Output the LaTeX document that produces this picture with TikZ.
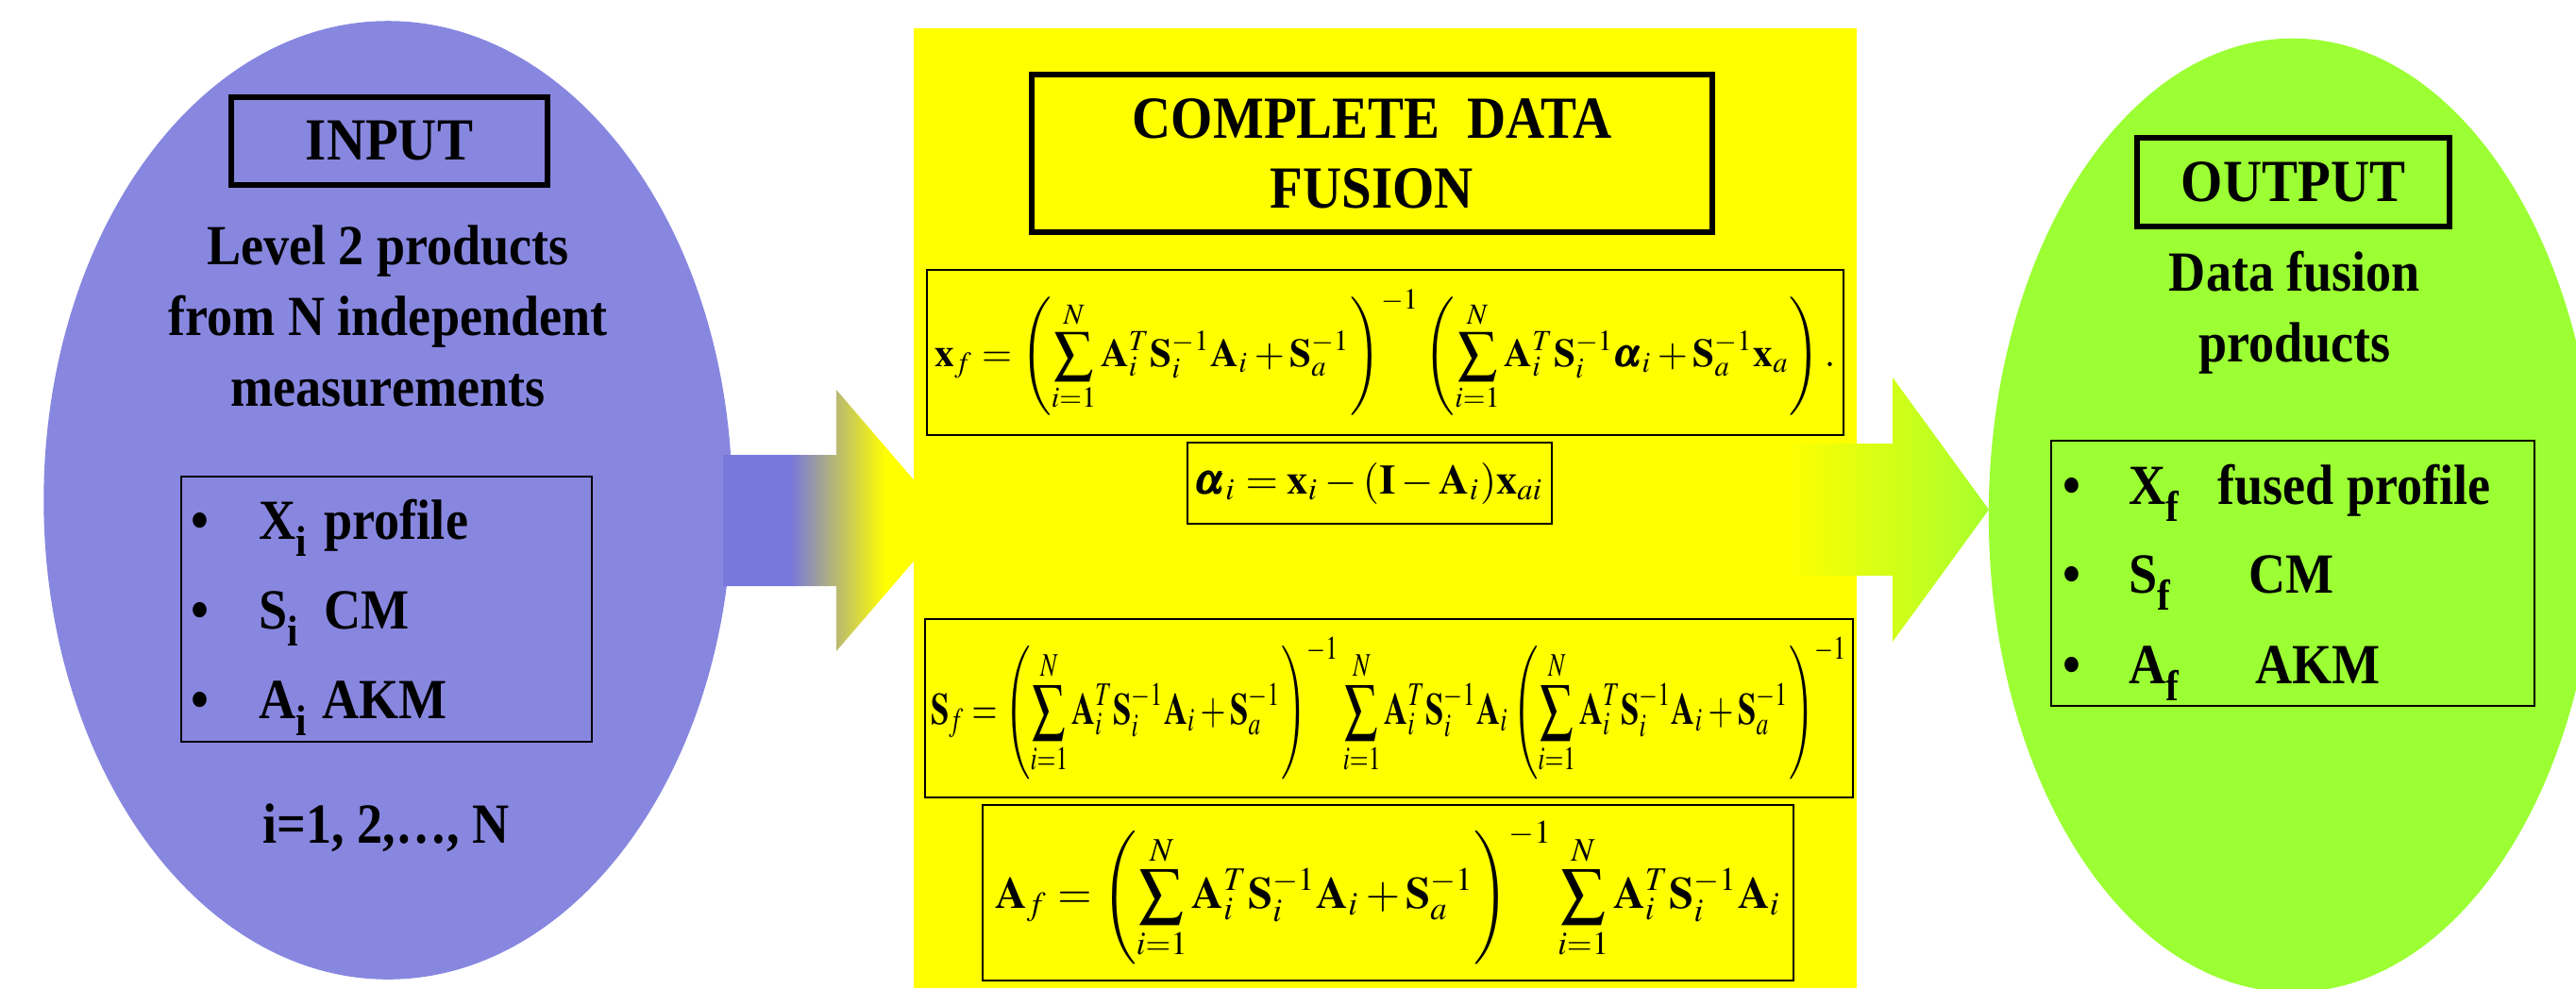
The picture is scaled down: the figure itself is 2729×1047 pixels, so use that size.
\documentclass[tikz,border=0pt]{standalone}
\usepackage{amsmath}
\usepackage{mathptmx}
\usepackage[no-math]{fontspec}
\setmainfont{Liberation Serif}[FakeStretch=0.9]
\usepackage{tikz}
\usetikzlibrary{shapes.geometric}

\definecolor{inblue}{RGB}{135,135,224}
\definecolor{arrowblue}{RGB}{120,120,220}
\definecolor{fusyellow}{RGB}{255,255,0}
\definecolor{outgreen}{RGB}{155,255,51}
\definecolor{arrowgreen}{RGB}{168,255,45}
\pgfdeclarehorizontalshading{inarrow}{100bp}{color(0bp)=(arrowblue); color(40bp)=(arrowblue); color(61bp)=(fusyellow); color(100bp)=(fusyellow)}

\newcommand{\lowsub}[1]{\raisebox{-0.3em}{\fontsize{13}{13}\selectfont #1}}
\newcommand{\bA}{\mathbf{A}}
\newcommand{\bS}{\mathbf{S}}
\newcommand{\bx}{\mathbf{x}}

\tikzset{
  headbox/.style={draw, line width=1.6pt, inner sep=0pt, align=center, font=\fontsize{18}{21}\selectfont\bfseries},
  listbox/.style={draw, line width=0.6pt, inner sep=0pt},
  eqbox/.style={draw, line width=0.6pt, inner sep=0pt},
  bodytxt/.style={inner sep=0pt, align=center, font=\fontsize{17.1}{21.3}\selectfont\bfseries},
  itemtxt/.style={inner sep=0pt, anchor=base west, font=\fontsize{17.1}{21.3}\selectfont\bfseries},
  bul/.style={inner sep=0pt, anchor=base, font=\fontsize{17.1}{21.3}\selectfont\bfseries}
}

\begin{document}
\begin{tikzpicture}[x=0.01cm, y=-0.01cm]
\useasboundingbox (0,0) rectangle (2729,1047);

% input side
\node[ellipse, fill=inblue, inner sep=0pt, minimum width=7.29cm, minimum height=10.15cm] (inp) at (411,530) {};
\shade[shading=inarrow] (766,482) -- (886,482) -- (886,413) -- (1005,551.5)
      -- (886,690) -- (886,621) -- (766,621) -- cycle;
\node[headbox, minimum width=3.35cm, minimum height=0.93cm] (intitle) at (412.5,149.5) {INPUT};
\node[bodytxt] (intext) at (411,335) {Level 2 products\\from N independent\\measurements};
\node[listbox, minimum width=4.35cm, minimum height=2.81cm] (inlist) at (409.5,645.5) {};
\node[bul] (inb1) at (212,571) {•};
\node[bul] (inb2) at (212,666) {•};
\node[bul] (inb3) at (212,761) {•};
\node[itemtxt] (inx) at (274,571) {X\lowsub{i}};
\node[itemtxt] (ins) at (274,666) {S\lowsub{i}};
\node[itemtxt] (ina) at (274,761) {A\lowsub{i}};
\node[itemtxt] (inxl) at (343,571) {profile};
\node[itemtxt] (insl) at (343,666) {CM};
\node[itemtxt] (inal) at (341,761) {AKM};
\node[bul] (inrange) at (409,893) {i=1, 2,…, N};

% fusion block
\fill[fusyellow] (968,30) rectangle (1967,1047);
\node[headbox, minimum width=7.21cm, minimum height=1.67cm] (fusion) at (1453.5,162.5) {COMPLETE\ \ DATA\\FUSION};
\node[eqbox, minimum width=9.71cm, minimum height=1.75cm] (xf) at (1467.5,373.5)
  {\resizebox*{9.53cm}{1.34cm}{$\displaystyle \bx_f=\left(\sum_{i=1}^{N}\bA_i^{T}\bS_i^{-1}\bA_i+\bS_a^{-1}\right)^{-1}\left(\sum_{i=1}^{N}\bA_i^{T}\bS_i^{-1}\pmb{\alpha}_i+\bS_a^{-1}\bx_a\right).$}};
\node[eqbox, minimum width=3.86cm, minimum height=0.86cm] (alpha) at (1451,512)
  {\resizebox*{3.68cm}{0.44cm}{$\pmb{\alpha}_i=\bx_i-(\mathbf{I}-\bA_i)\bx_{ai}$}};
\node[eqbox, minimum width=9.83cm, minimum height=1.89cm] (sf) at (1471.5,750.5)
  {\resizebox*{9.70cm}{1.51cm}{$\displaystyle \bS_f=\left(\sum_{i=1}^{N}\bA_i^{T}\bS_i^{-1}\bA_i+\bS_a^{-1}\right)^{-1}\sum_{i=1}^{N}\bA_i^{T}\bS_i^{-1}\bA_i\left(\sum_{i=1}^{N}\bA_i^{T}\bS_i^{-1}\bA_i+\bS_a^{-1}\right)^{-1}$}};
\node[eqbox, minimum width=8.59cm, minimum height=1.86cm] (af) at (1470.5,946)
  {\resizebox*{8.32cm}{1.51cm}{$\displaystyle \bA_f=\left(\sum_{i=1}^{N}\bA_i^{T}\bS_i^{-1}\bA_i+\bS_a^{-1}\right)^{-1}\sum_{i=1}^{N}\bA_i^{T}\bS_i^{-1}\bA_i$}};

% output side
\shade[left color=fusyellow, right color=arrowgreen] (1893,470) -- (2005,470) -- (2005,400) -- (2107,540)
      -- (2005,680) -- (2005,610) -- (1893,610) -- cycle;
\node[ellipse, fill=outgreen, inner sep=0pt, minimum width=6.44cm, minimum height=10.1cm] (outp) at (2429,546) {};
\node[headbox, minimum width=3.31cm, minimum height=0.94cm] (outtitle) at (2429.5,193) {OUTPUT};
\node[bodytxt] (outtext) at (2431,331) {Data fusion\\products};
\node[listbox, minimum width=5.12cm, minimum height=2.81cm] (outlist) at (2429,607.5) {};
\node[bul] (outb1) at (2195,534) {•};
\node[bul] (outb2) at (2195,628) {•};
\node[bul] (outb3) at (2195,724) {•};
\node[itemtxt] (outx) at (2255,534) {X\lowsub{f}};
\node[itemtxt] (outs) at (2255,628) {S\lowsub{f}};
\node[itemtxt] (outa) at (2255,724) {A\lowsub{f}};
\node[itemtxt] (outxl) at (2349,534) {fused profile};
\node[itemtxt] (outsl) at (2382,628) {CM};
\node[itemtxt] (outal) at (2389,724) {AKM};
\end{tikzpicture}
\end{document}
